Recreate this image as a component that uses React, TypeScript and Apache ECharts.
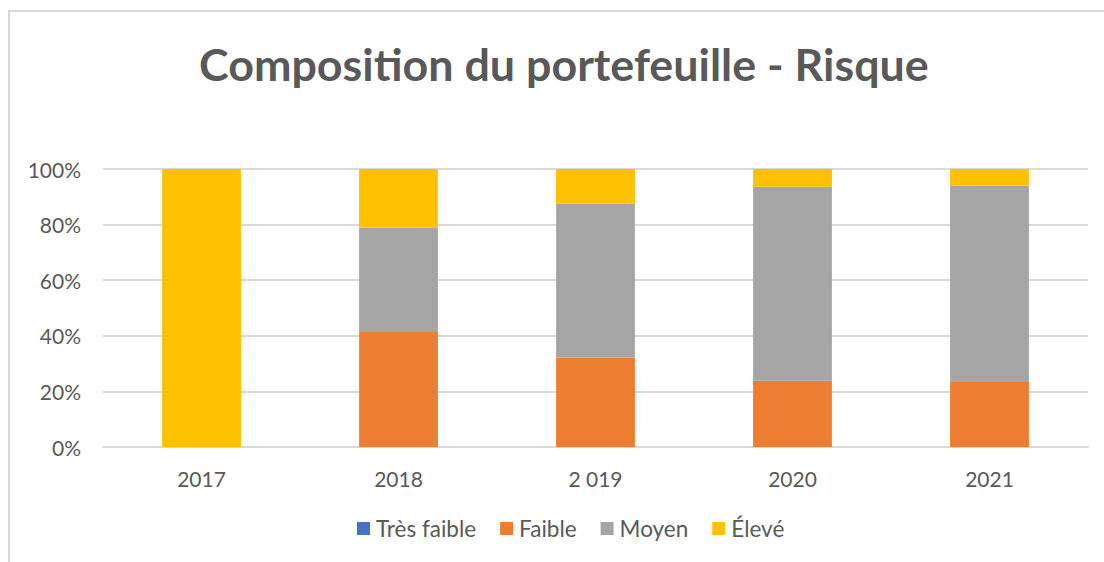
import React, { useEffect, useRef } from "react";
import * as echarts from "echarts";

const categories = ["2017", "2018", "2 019", "2020", "2021"];
const tresFaible = [0, 0, 0, 0, 0];
const faible = [0, 41.4, 32.2, 23.8, 23.4];
const moyen = [0, 37.5, 55.4, 69.8, 70.7];
const eleve = [100, 21.1, 12.4, 6.4, 5.9];
const yTicks = [0, 20, 40, 60, 80, 100];

const FONT = "Lato, 'Open Sans', sans-serif";
const TEXT = "#595959";

export default function App() {
  const ref = useRef<HTMLDivElement>(null);
  useEffect(() => {
    if (!ref.current) return;
    const chart = echarts.init(ref.current, null, { renderer: "svg" });
    const mk = (name: string, data: number[], color: string) => ({
      name,
      type: "bar",
      stack: "total",
      data,
      barWidth: "40%",
      itemStyle: { color },
    });
    chart.setOption({
      animation: false,
      backgroundColor: "#ffffff",
      title: {
        text: "Composition du portefeuille - Risque",
        left: 194,
        top: 36,
        textStyle: { fontFamily: FONT, fontWeight: "bold", fontSize: 44.8, color: TEXT },
      },
      graphic: [
        { type: "line", shape: { x1: 8, y1: 11, x2: 1104, y2: 11 }, style: { stroke: "#d9d9d9", lineWidth: 2 } },
        { type: "line", shape: { x1: 9, y1: 10, x2: 9, y2: 562 }, style: { stroke: "#d9d9d9", lineWidth: 2 } },
      ],
      legend: {
        bottom: 17,
        left: 352,
        itemWidth: 13,
        itemHeight: 13,
        itemGap: 24,
        icon: "rect",
        textStyle: { fontFamily: FONT, fontSize: 22.5, color: TEXT, padding: [0, 0, 0, 1] },
        data: ["Très faible", "Faible", "Moyen", "Élevé"],
      },
      grid: { left: 103, right: 16, top: 169, bottom: 115, containLabel: false },
      xAxis: {
        type: "category",
        data: categories,
        axisLine: { lineStyle: { color: "#d9d9d9", width: 2 } },
        axisTick: { show: false },
        axisLabel: { fontFamily: FONT, fontSize: 21, color: TEXT, margin: 21 },
      },
      yAxis: {
        type: "value",
        min: yTicks[0],
        max: yTicks[yTicks.length - 1],
        interval: 20,
        axisLine: { show: false },
        axisTick: { show: false },
        splitLine: { lineStyle: { color: "#d9d9d9", width: 2 } },
        axisLabel: { fontFamily: FONT, fontSize: 21, color: TEXT, margin: 22, formatter: "{value}%" },
      },
      series: [
        mk("Très faible", tresFaible, "#4472C4"),
        mk("Faible", faible, "#ED7D31"),
        mk("Moyen", moyen, "#A5A5A5"),
        mk("Élevé", eleve, "#FFC000"),
      ],
    });
    return () => chart.dispose();
  }, []);
  return <div ref={ref} style={{ width: 1104, height: 562, position: "absolute", left: 0, top: 0 }} />;
}
